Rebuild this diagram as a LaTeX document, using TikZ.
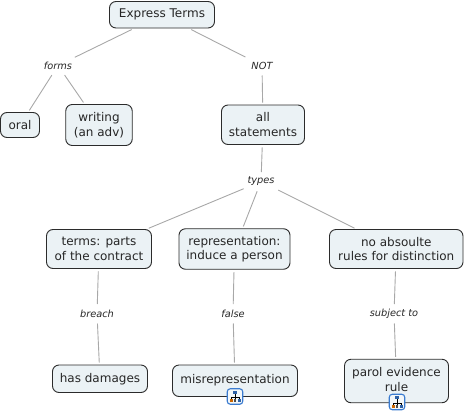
\documentclass[tikz,border=0pt]{standalone}
\usepackage{fontspec}
\setmainfont{DejaVu Sans}
\definecolor{boxfill}{HTML}{EBF2F5}
\definecolor{boxline}{HTML}{2B2B2B}
\definecolor{linkc}{HTML}{A8A8A8}
\definecolor{iconb}{HTML}{3A7BD0}
\tikzset{
 x=1pt,y=-1pt,
 concept/.style={draw=boxline,fill=boxfill,rounded corners=6.5pt,line width=0.9pt,align=center,inner sep=0pt,font=\fontsize{12}{14.5}\selectfont,text=black!85},
 linklabel/.style={font=\fontsize{9.8}{12}\selectfont\itshape,text=black!85,inner sep=0pt,outer sep=0pt,minimum height=15pt,minimum width=30pt},
 link/.style={draw=linkc,line width=0.9pt,shorten >=2pt,shorten <=2.5pt},
 iconbox/.style={draw=iconb,fill=boxfill!60!white,rounded corners=3pt,line width=1.1pt,minimum size=15.5pt,inner sep=0pt},
}
\newcommand{\cbox}[6]{\node[concept,minimum width=#4 pt,minimum height=#5 pt] (#1) at (#2,#3) {#6};}
\newcommand{\hicon}[3]{%
 \node[iconbox] (#1) at (#2,#3) {};
 \begin{scope}[shift={(#2,#3)}]
  \draw[black,line width=0.5pt] (0,-3) -- (0,1) (-4,4) -- (-4,1) -- (4,1) -- (4,4) (0,1) -- (0,4);
  \fill[iconb!80!black] (-2,-6) rectangle (2,-3);
  \fill[orange!80!black] (-5.5,2.5) rectangle (-2.5,5.5);
  \fill[iconb!80!black] (2.5,2.5) rectangle (5.5,5.5);
  \fill[black!70] (-1.2,2.5) rectangle (1.2,5.5);
 \end{scope}}
\begin{document}
\begin{tikzpicture}
\useasboundingbox (0,0) rectangle (465,415);
\cbox{express}{162}{14.75}{105}{26.5}{Express Terms}
\cbox{oral}{20}{125}{39}{25}{oral}
\cbox{writing}{99}{125}{66.5}{41}{writing\\(an adv)}
\cbox{all}{263}{124.75}{83}{39.5}{all\\statements}
\cbox{terms}{99}{249}{105}{39}{terms: parts\\of the contract}
\cbox{rep}{234.5}{249}{111}{40.5}{representation:\\induce a person}
\cbox{noabs}{396.25}{249}{133.5}{39}{no absoulte\\rules for distinction}
\cbox{damages}{100}{378.75}{95}{27.5}{has damages}
\cbox{mis}{235}{380.75}{125}{31.5}{\raisebox{3.5pt}{misrepresentation}}
\cbox{parol}{396.5}{381}{104}{43.5}{\raisebox{1pt}{\begin{tabular}{@{}c@{}}parol evidence\\rule\end{tabular}}}
\node[linklabel] (forms) at (58,65.5) {forms};
\node[linklabel] (not) at (262,65.5) {NOT};
\node[linklabel] (types) at (261,181.5) {types};
\node[linklabel] (breach) at (97,313.5) {breach};
\node[linklabel] (false) at (233,313.5) {false};
\node[linklabel] (subject) at (394,313.5) {subject to};
\hicon{iconm}{235}{396.5}
\hicon{iconp}{397}{402}
\draw[link] (express) -- (forms);
\draw[link] (forms) -- (oral);
\draw[link] (forms) -- (writing);
\draw[link] (express) -- (not);
\draw[link] (not) -- (all);
\draw[link] (all) -- (types);
\draw[link] (types) -- (terms);
\draw[link] (types) -- (rep);
\draw[link] (types) -- (noabs);
\draw[link] (terms) -- (breach);
\draw[link] (breach) -- (damages);
\draw[link] (rep) -- (false);
\draw[link] (false) -- (mis);
\draw[link] (noabs) -- (subject);
\draw[link] (subject) -- (parol);
\end{tikzpicture}
\end{document}
